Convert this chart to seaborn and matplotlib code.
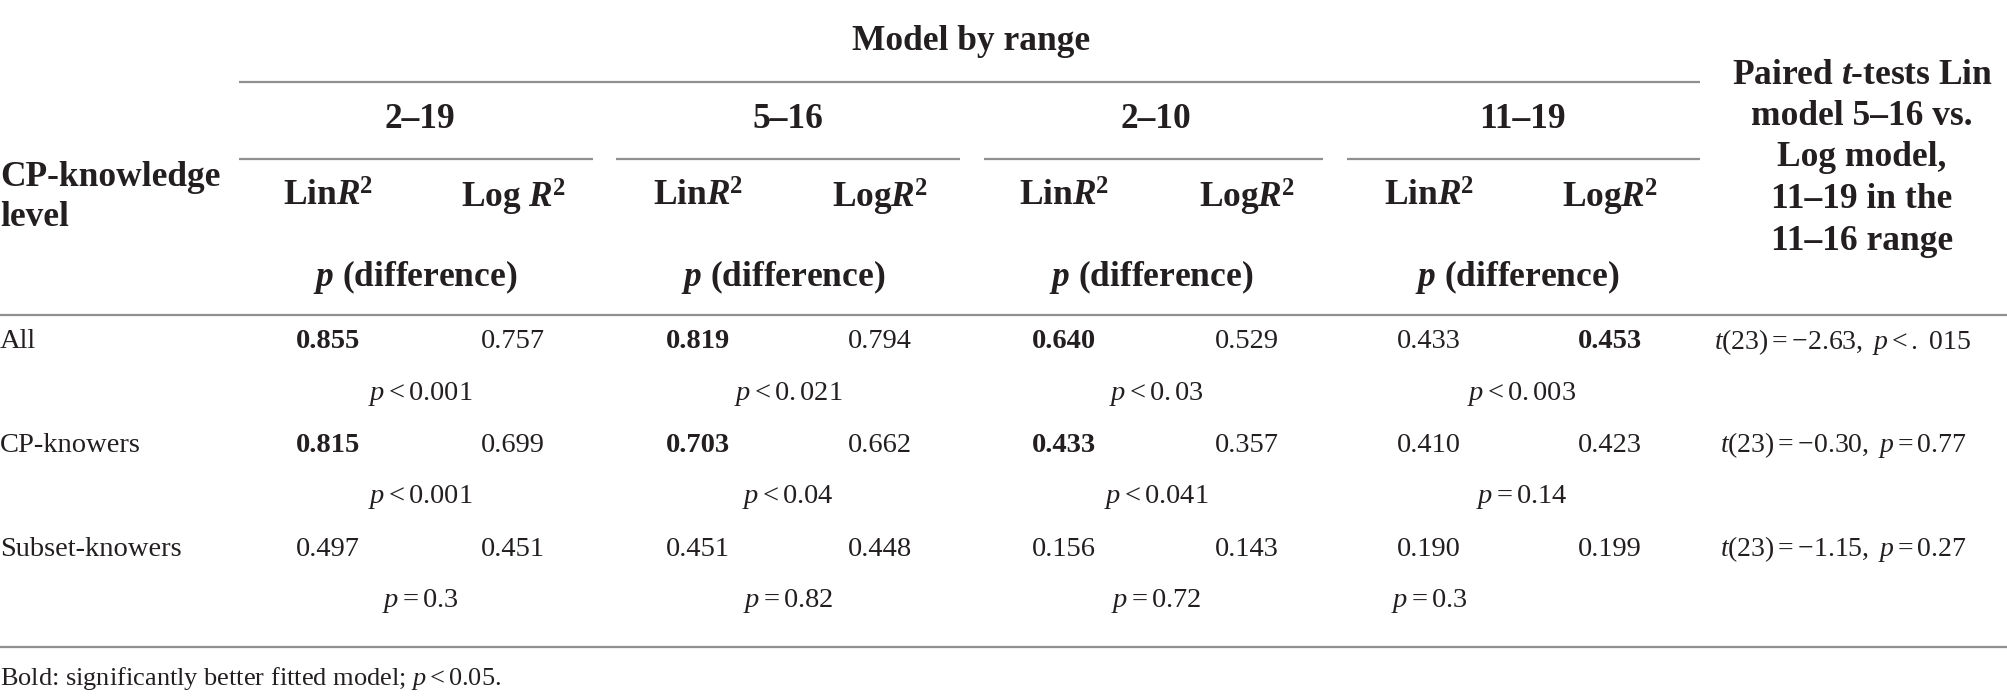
import matplotlib
matplotlib.use("Agg")
import matplotlib.pyplot as plt
import seaborn as sns

# table content
ranges = ["2–19", "5–16", "2–10", "11–19"]
levels = ["All", "CP-knowers", "Subset-knowers"]
lin_r2 = [[0.855, 0.819, 0.640, 0.433],
          [0.815, 0.703, 0.433, 0.410],
          [0.497, 0.451, 0.156, 0.190]]
log_r2 = [[0.757, 0.794, 0.529, 0.453],
          [0.699, 0.662, 0.357, 0.423],
          [0.451, 0.448, 0.143, 0.199]]
# which model fitted significantly better (bold), None = neither
better = [["lin", "lin", "lin", "log"],
          ["lin", "lin", "lin", None],
          [None, None, None, None]]
p_labels = [[r"$p < 0.001$", r"$p < \mathit{0}.021$", r"$p < \mathit{0}.03$", r"$p < \mathit{0}.003$"],
            [r"$p < 0.001$", r"$p < 0.04$", r"$p < 0.041$", r"$p = 0.14$"],
            [r"$p = \mathit{0.3}$", r"$p = \mathit{0.82}$", r"$p = \mathit{0.72}$", r"$p = \mathit{0.3}$"]]
t_tests = [r"$t(23) = -2.63,\ p <.\ 015$",
           r"$t(23) = -0.30,\ p = 0.77$",
           r"$t(23) = -1.15,\ p = 0.27$"]
lin_head = [r"Lin$\mathbfit{R}^{\mathbf{2}}$"] * 4
log_head = [r"Log $\mathbfit{R}^{\mathbf{2}}$"] + [r"Log$\mathbfit{R}^{\mathbf{2}}$"] * 3
right_head = [r"Paired $\mathbfit{t}$-tests Lin", "model 5–16 vs.", "Log model,",
              "11–19 in the", "11–16 range"]
footnote = r"Bold: significantly better fitted model; $p < 0.05$."

sns.set_theme(style="white")
plt.rcParams["font.family"] = ["Liberation Serif", "DejaVu Serif"]
plt.rcParams["mathtext.fontset"] = "custom"
plt.rcParams["mathtext.rm"] = "Liberation Serif"
plt.rcParams["mathtext.it"] = "Liberation Serif:italic"
plt.rcParams["mathtext.bf"] = "Liberation Serif:bold"
plt.rcParams["mathtext.bfit"] = "Liberation Serif:italic:bold"

ink = "#231f20"
rule = "#8f8f8f"
head_fs = 25.5
body_fs = 20.5

# layout in pixel units
range_x = [420, 788, 1156, 1522]
lin_x = [328, 698, 1064, 1429]
log_x = [513, 880, 1247, 1610]
seg = [(239, 593), (616, 960), (984, 1323), (1347, 1700)]
row_y = [342, 445, 549]
p_dy = 52
p_align = [["c"] * 4, ["c"] * 4, ["c", "c", "c", "l"]]
head_x = 1862
ttest_x = 1843

fig = plt.figure(figsize=(20.08, 6.99), dpi=100)
ax = fig.add_axes([0, 0, 1, 1])
ax.set_xlim(0, 2008)
ax.set_ylim(699, 0)
ax.axis("off")

def txt(x, y, s, size=body_fs, weight="normal", ha="center"):
    ax.text(x, y, s, fontsize=size, fontweight=weight, ha=ha, va="center", color=ink)

# header
txt(971, 42, "Model by range", head_fs, "bold")
ax.hlines(82, 239, 1700, color=rule, lw=1.6)
for i, r in enumerate(ranges):
    txt(range_x[i], 120, r, head_fs, "bold")
    ax.hlines(159, seg[i][0], seg[i][1], color=rule, lw=1.6)
    txt(lin_x[i], 197, lin_head[i], head_fs, "bold")
    txt(log_x[i], 197, log_head[i], head_fs, "bold")
    txt(range_x[i] - 5, 277, r"$\mathbfit{p}$ (difference)", head_fs, "bold")
txt(0, 177, "CP-knowledge", head_fs, "bold", ha="left")
txt(0, 217, "level", head_fs, "bold", ha="left")
for k, line in enumerate(right_head):
    txt(head_x, 75 + k * 41.5, line, head_fs, "bold")
ax.hlines(315, 0, 2008, color=rule, lw=1.6)

# body
for j, lev in enumerate(levels):
    y = row_y[j]
    txt(0, y, lev, ha="left")
    for i in range(len(ranges)):
        txt(lin_x[i], y, f"{lin_r2[j][i]:.3f}",
            weight="bold" if better[j][i] == "lin" else "normal")
        txt(log_x[i], y, f"{log_r2[j][i]:.3f}",
            weight="bold" if better[j][i] == "log" else "normal")
        px = range_x[i] if p_align[j][i] == "c" else lin_x[i]
        txt(px, y + p_dy, p_labels[j][i])
    txt(ttest_x, y, t_tests[j], 20)
ax.hlines(647, 0, 2008, color=rule, lw=1.6)

txt(0, 679, footnote, 19, ha="left")

fig.savefig("out.png", dpi=100, facecolor="white")
